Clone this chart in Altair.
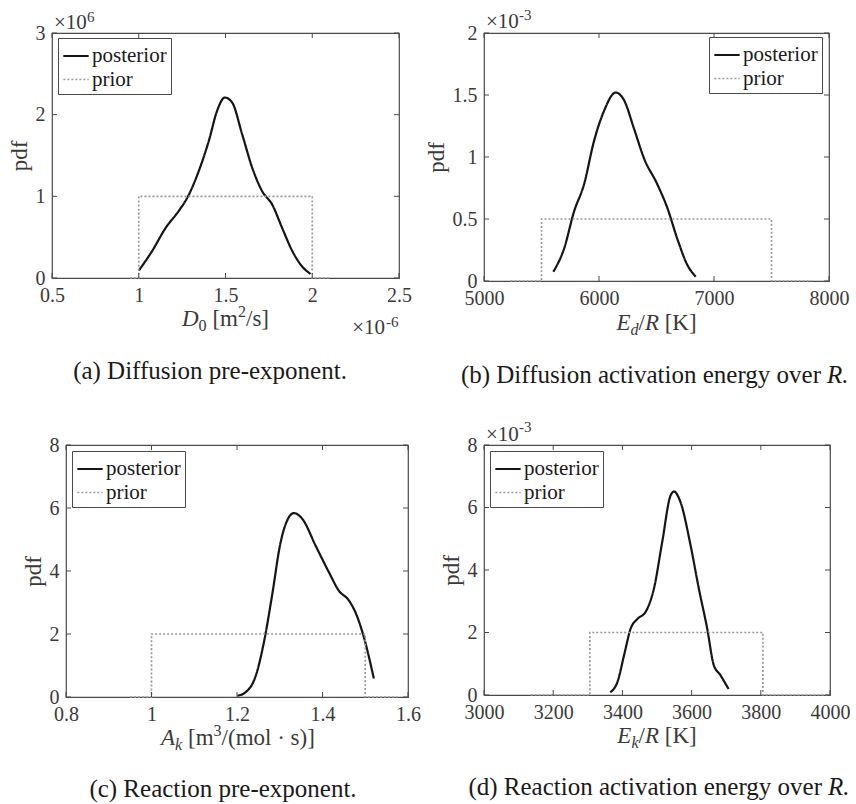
import altair as alt
import pandas as pd

FONT = "Liberation Serif"
AXC = "#4a4a4a"
TXC = "#3a3a3a"
CAPC = "#1a1a1a"
SERIES = ["posterior", "prior"]

# ---------------- data ----------------
# (a) D0, x in 1e-6 m^2/s, pdf in 1e6
a_post_x = [1.0, 1.077, 1.154, 1.23, 1.279, 1.346, 1.404, 1.452, 1.496, 1.538, 1.596, 1.654, 1.712, 1.769, 1.827, 1.885, 1.942, 1.99]
a_post_y = [0.09, 0.33, 0.61, 0.82, 0.98, 1.31, 1.68, 2.05, 2.21, 2.15, 1.76, 1.35, 1.06, 0.90, 0.61, 0.33, 0.14, 0.05]
a_prior_x = [0.95, 1.0, 1.0, 2.0, 2.0, 2.1]
a_prior_y = [0, 0, 1, 1, 0, 0]
a_xticks = [0.5, 1, 1.5, 2, 2.5]
a_yticks = [0, 1, 2, 3]

# (b) Ed/R in K, pdf in 1e-3
b_post_x = [5603, 5696, 5783, 5870, 5957, 6043, 6145, 6217, 6304, 6391, 6507, 6594, 6681, 6768, 6841]
b_post_y = [0.075, 0.26, 0.56, 0.78, 1.13, 1.37, 1.52, 1.46, 1.23, 0.99, 0.78, 0.59, 0.34, 0.13, 0.035]
b_prior_x = [5230, 5500, 5500, 7500, 7500, 7850]
b_prior_y = [0, 0, 0.5, 0.5, 0, 0]
b_xticks = [5000, 6000, 7000, 8000]
b_yticks = [0, 0.5, 1, 1.5, 2]

# (c) Ak in m^3/(mol s)
c_post_x = [1.201, 1.220, 1.244, 1.263, 1.282, 1.302, 1.321, 1.333, 1.353, 1.384, 1.415, 1.438, 1.462, 1.477, 1.500, 1.520]
c_post_y = [0.04, 0.15, 0.68, 1.74, 3.22, 4.91, 5.70, 5.84, 5.65, 4.80, 3.96, 3.38, 3.06, 2.69, 1.74, 0.59]
c_prior_x = [0.95, 1.0, 1.0, 1.5, 1.5, 1.575]
c_prior_y = [0, 0, 2, 2, 0, 0]
c_xticks = [0.8, 1, 1.2, 1.4, 1.6]
c_yticks = [0, 2, 4, 6, 8]

# (d) Ek/R in K, pdf in 1e-3
d_post_x = [3365, 3386, 3405, 3424, 3443, 3467, 3491, 3515, 3539, 3549, 3568, 3597, 3621, 3645, 3664, 3683, 3707]
d_post_y = [0.085, 0.43, 1.28, 2.13, 2.43, 2.66, 3.40, 4.89, 6.38, 6.51, 6.17, 4.79, 3.40, 2.13, 0.96, 0.64, 0.19]
d_prior_x = [3135, 3306, 3306, 3806, 3806, 3995]
d_prior_y = [0, 0, 2, 2, 0, 0]
d_xticks = [3000, 3200, 3400, 3600, 3800, 4000]
d_yticks = [0, 2, 4, 6, 8]

# ---------------- helpers ----------------
REG = {' ': .25, '(': .333, ')': .333, '.': .25, '/': .278, '[': .333, ']': .333,
       '·': .25, '-': .333, '×': .564, 'm': .778, 's': .389, 'o': .5, 'l': .278,
       'K': .722, 'R': .667, 'i': .278, 'r': .333, 'e': .444, 'n': .5, 't': .278}
ITA = {'A': .611, 'D': .722, 'E': .611, 'R': .611, 'd': .5, 'k': .444}


def cw(ch, it):
    if it and ch in ITA:
        return ITA[ch]
    return REG.get(ch, .5)


def txt(s, x, y, size, align="left", italic=False, color=TXC):
    kw = dict(align=align, baseline="alphabetic", font=FONT, fontSize=size, color=color)
    if italic:
        kw["fontStyle"] = "italic"
    return alt.Chart(pd.DataFrame({"t": [s]})).mark_text(**kw).encode(
        text="t:N", x=alt.value(x), y=alt.value(y))


def math_label(parts, cx, by, size):
    items = []
    x = 0.0
    for text, it, kind in parts:
        s = size * 0.7 if kind else size
        lead = len(text) - len(text.lstrip(" "))
        x += lead * 0.25 * size
        t = text.lstrip(" ")
        w = sum(cw(ch, it) for ch in t) * s
        dy = 5 if kind == "sub" else (-9 if kind == "sup" else 0)
        items.append((t, x, dy, s, it))
        x += w
    start = cx - x / 2
    return [txt(t, start + xx, by + dy, s, italic=it) for (t, xx, dy, s, it) in items]


def panel(px, py, qx, qy, xdom, ydom, xt, yt, xfmt, yfmt, W, H, leg, extras):
    rows = []
    for i, (x, y) in enumerate(zip(px, py)):
        rows.append({"series": "posterior", "x": x, "y": y, "ord": i})
    for i, (x, y) in enumerate(zip(qx, qy)):
        rows.append({"series": "prior", "x": x, "y": y, "ord": i})
    df = pd.DataFrame(rows)

    X = alt.X("x:Q", scale=alt.Scale(domain=xdom, nice=False, zero=False),
              axis=alt.Axis(values=xt, format=xfmt, ticks=False, domain=False, grid=False,
                            labelFont=FONT, labelFontSize=20, labelColor=TXC,
                            labelPadding=7, labelFlush=False, labelOverlap=False, title=None))
    Y = alt.Y("y:Q", scale=alt.Scale(domain=ydom, nice=False, zero=False),
              axis=alt.Axis(values=yt, format=yfmt, ticks=False, domain=False, grid=False,
                            labelFont=FONT, labelFontSize=20, labelColor=TXC,
                            labelPadding=7, labelFlush=False, labelOverlap=False,
                            title="pdf", titleFont=FONT, titleFontSize=23,
                            titleFontWeight="normal", titleColor=TXC, titlePadding=4))

    legend = alt.Legend(title=None, orient="none", legendX=leg[0], legendY=leg[1],
                        fillColor="white", strokeColor=AXC, padding=4,
                        labelFont=FONT, labelFontSize=21, labelColor=CAPC,
                        symbolType="stroke", symbolSize=640, labelOffset=2,
                        rowPadding=0, cornerRadius=0)
    lines = alt.Chart(df).mark_line(interpolate="monotone").encode(
        x=X, y=Y,
        color=alt.Color("series:N", scale=alt.Scale(domain=SERIES, range=["#151515", "#9a9a9a"]), legend=legend),
        strokeDash=alt.StrokeDash("series:N", scale=alt.Scale(domain=SERIES, range=[[1, 0], [2, 2]]), legend=legend),
        strokeWidth=alt.StrokeWidth("series:N", scale=alt.Scale(domain=SERIES, range=[2.2, 1.7]), legend=legend),
        order="ord:Q",
    )
    xtd = alt.Chart(pd.DataFrame({"x": xt}))
    ytd = alt.Chart(pd.DataFrame({"y": yt}))
    tk = dict(color=AXC, strokeWidth=1)
    ticks = [
        xtd.mark_rule(**tk).encode(x=X, y=alt.value(H), y2=alt.value(H - 5)),
        xtd.mark_rule(**tk).encode(x=X, y=alt.value(0), y2=alt.value(5)),
        ytd.mark_rule(**tk).encode(y=Y, x=alt.value(0), x2=alt.value(5)),
        ytd.mark_rule(**tk).encode(y=Y, x=alt.value(W - 5), x2=alt.value(W)),
    ]
    return alt.layer(lines, *ticks, *extras).properties(width=W, height=H)


# ---------------- panels ----------------
Wa, Ha = 347, 245
Wb, Hb = 345, 248
Wc, Hc = 342, 252
Wd, Hd = 346, 250

ext_a = [
    txt("×10", 2, -4, 21),
    txt("6", 35, -11, 15),
    txt("×10", Wa - 14, Ha + 56, 21, align="right"),
    txt("-6", Wa - 13, Ha + 49, 15),
    *math_label([("D", True, ""), ("0", False, "sub"), (" [m", False, ""), ("2", False, "sup"), ("/s]", False, "")],
                Wa / 2, Ha + 48, 23),
    txt("(a) Diffusion pre-exponent.", 158, Ha + 101, 25, align="center", color=CAPC),
]
ext_b = [
    txt("×10", 2, -5, 21),
    txt("-3", 35, -13, 15),
    *math_label([("E", True, ""), ("d", True, "sub"), ("/", False, ""), ("R", True, ""), (" [K]", False, "")],
                Wb / 2, Hb + 49, 23),
    txt("(b) Diffusion activation energy over", 337, Hb + 102, 25, align="right", color=CAPC),
    txt("R.", 343, Hb + 102, 25, italic=True, color=CAPC),
]
ext_c = [
    *math_label([("A", True, ""), ("k", True, "sub"), (" [m", False, ""), ("3", False, "sup"), ("/(mol · s)]", False, "")],
                Wc / 2, Hc + 48, 23),
    txt("(c) Reaction pre-exponent.", 157, Hc + 100, 25, align="center", color=CAPC),
]
ext_d = [
    txt("×10", 2, -4, 21),
    txt("-3", 35, -13, 15),
    *math_label([("E", True, ""), ("k", True, "sub"), ("/", False, ""), ("R", True, ""), (" [K]", False, "")],
                Wd / 2, Hd + 48, 23),
    txt("(d) Reaction activation energy over", 338, Hd + 100, 25, align="right", color=CAPC),
    txt("R.", 344, Hd + 100, 25, italic=True, color=CAPC),
]

pa = panel(a_post_x, a_post_y, a_prior_x, a_prior_y, [0.5, 2.5], [0, 3], a_xticks, a_yticks,
           ".1~f", "d", Wa, Ha, (6, 5), ext_a)
pb = panel(b_post_x, b_post_y, b_prior_x, b_prior_y, [5000, 8000], [0, 2], b_xticks, b_yticks,
           "d", ".1~f", Wb, Hb, (Wb - 120, 4), ext_b)
pc = panel(c_post_x, c_post_y, c_prior_x, c_prior_y, [0.8, 1.6], [0, 8], c_xticks, c_yticks,
           ".1~f", "d", Wc, Hc, (6, 6), ext_c)
pd_ = panel(d_post_x, d_post_y, d_prior_x, d_prior_y, [3000, 4000], [0, 8], d_xticks, d_yticks,
            "d", "d", Wd, Hd, (6, 6), ext_d)

RES = dict(color="independent", strokeDash="independent", strokeWidth="independent")


def spacer():
    return alt.Chart(pd.DataFrame({"z": [0]})).mark_point(opacity=0, size=1).properties(
        width=1, height=1, view=alt.ViewBackground(stroke="transparent"))


row1 = alt.hconcat(spacer(), alt.hconcat(pa, pb, spacing=11).resolve_scale(**RES),
                   spacing=0).resolve_scale(**RES)
row2 = alt.hconcat(spacer(), alt.hconcat(pc, pd_, spacing=17).resolve_scale(**RES),
                   spacing=14).resolve_scale(**RES)

chart = alt.vconcat(row1, row2, spacing=30).resolve_scale(**RES).properties(
    padding={"left": 4, "top": 7, "right": 0, "bottom": 0},
    background="white",
).configure_view(stroke=AXC, strokeWidth=1.2)

chart.save("out.html", embed_options={"renderer": "svg", "actions": False})
